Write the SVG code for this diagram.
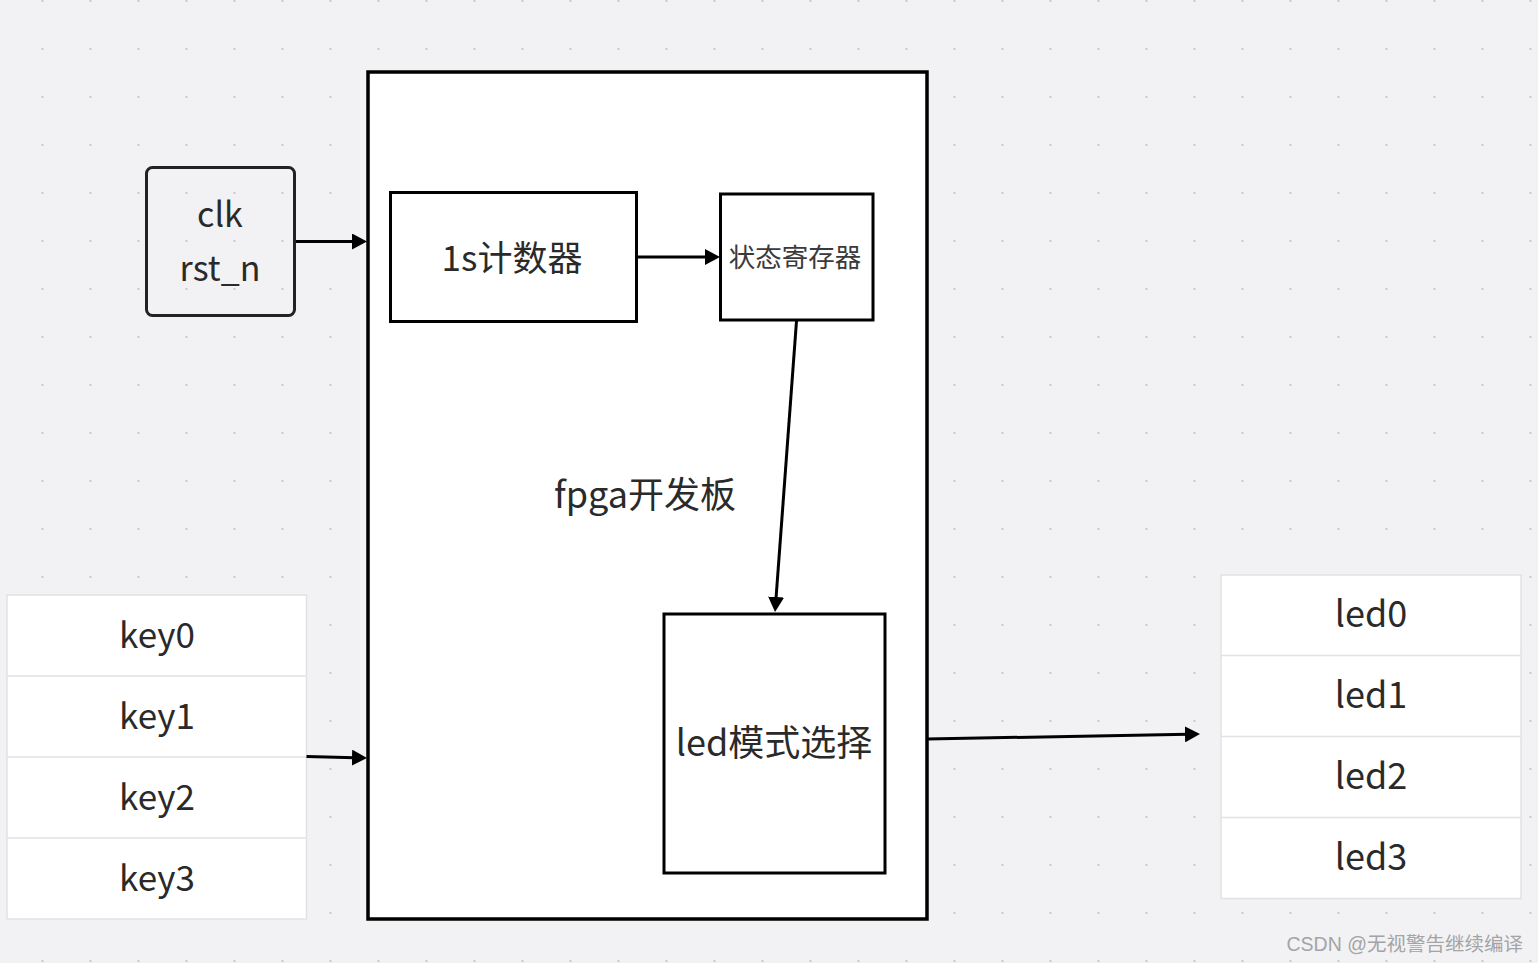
<svg xmlns="http://www.w3.org/2000/svg" width="1538" height="963" viewBox="0 0 1538 963">
  <defs>
    <pattern id="dots" x="0" y="0" width="48" height="48" patternUnits="userSpaceOnUse">
      <rect x="41.5" y="0" width="2" height="2" fill="#c9c9cd"/>
    </pattern>
    <marker id="arr" markerUnits="userSpaceOnUse" markerWidth="16" markerHeight="16" refX="3" refY="8" orient="auto">
      <path d="M0,0 L15,8 L0,16 z" fill="#000"/>
    </marker>
    <style>
      .t { font-family: "Noto Sans CJK SC", "Noto Sans", sans-serif; fill: #2a2a2a; text-anchor: middle; dominant-baseline: central; }
      .box { fill: #fff; stroke: #000; stroke-width: 3; }
      .list { fill: #fff; stroke: #e2e2e4; stroke-width: 1.5; }
      .div { stroke: #e2e2e4; stroke-width: 1.5; }
      .conn { stroke: #000; stroke-width: 3; fill: none; marker-end: url(#arr); }
    </style>
  </defs>
  <rect width="1538" height="963" fill="#f2f2f4"/>
  <rect width="1538" height="963" fill="url(#dots)"/>

  <g id="fpga">
    <rect x="368" y="72" width="559" height="847" fill="#fff" stroke="#000" stroke-width="3.5"/>
    <text class="t" x="645" y="492" font-size="36">fpga开发板</text>
  </g>

  <g id="clk">
    <rect x="146.5" y="167.5" width="148" height="148" rx="6" fill="none" stroke="#222" stroke-width="3"/>
    <text class="t" x="220" y="212" font-size="34">clk</text>
    <text class="t" x="220" y="266" font-size="34">rst_n</text>
  </g>

  <g id="counter">
    <rect class="box" x="390.5" y="192.5" width="246" height="129"/>
    <text class="t" x="512" y="255" font-size="35">1s计数器</text>
  </g>

  <g id="state">
    <rect class="box" x="720.5" y="194" width="152.5" height="126"/>
    <text class="t" x="795" y="255" font-size="26.5" style="fill:#3a3a3a">状态寄存器</text>
  </g>

  <g id="ledmode">
    <rect class="box" x="664" y="614" width="221" height="259"/>
    <text class="t" x="774" y="740" font-size="36">led模式选择</text>
  </g>

  <g id="keys">
    <rect class="list" x="7" y="595" width="299.5" height="324"/>
    <line class="div" x1="7" y1="676" x2="306.5" y2="676"/>
    <line class="div" x1="7" y1="757" x2="306.5" y2="757"/>
    <line class="div" x1="7" y1="838" x2="306.5" y2="838"/>
    <text class="t" x="157" y="632" font-size="35">key0</text>
    <text class="t" x="157" y="713" font-size="35">key1</text>
    <text class="t" x="157" y="794" font-size="35">key2</text>
    <text class="t" x="157" y="875" font-size="35">key3</text>
  </g>

  <g id="leds">
    <rect class="list" x="1221" y="575" width="300" height="323.5"/>
    <line class="div" x1="1221" y1="655.5" x2="1521" y2="655.5"/>
    <line class="div" x1="1221" y1="736.5" x2="1521" y2="736.5"/>
    <line class="div" x1="1221" y1="817.5" x2="1521" y2="817.5"/>
    <text class="t" x="1371" y="611" font-size="36">led0</text>
    <text class="t" x="1371" y="692" font-size="36">led1</text>
    <text class="t" x="1371" y="773" font-size="36">led2</text>
    <text class="t" x="1371" y="854" font-size="36">led3</text>
  </g>

  <g id="connectors">
    <line class="conn" x1="296" y1="241.5" x2="355" y2="241.5"/>
    <line class="conn" x1="636.5" y1="257" x2="708" y2="257"/>
    <line class="conn" x1="796.5" y1="321" x2="775.9" y2="600"/>
    <line class="conn" x1="306.5" y1="756.5" x2="355" y2="757.7"/>
    <line class="conn" x1="927" y1="739" x2="1188" y2="734.3"/>
  </g>

  <text x="1523" y="951" text-anchor="end" font-family="Liberation Sans, Noto Sans CJK SC, sans-serif" font-size="19.5" fill="#a4a4a6">CSDN @无视警告继续编译</text>
</svg>
